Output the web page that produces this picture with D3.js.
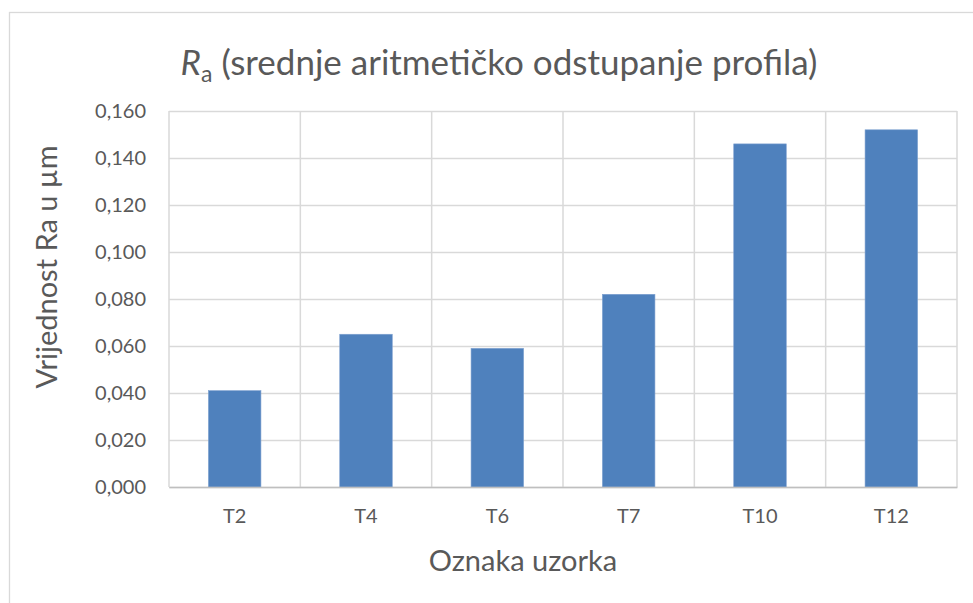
<!DOCTYPE html>
<head>
  <meta charset="utf-8">
  <script src="https://d3js.org/d3.v7.min.js"></script>
  <style>
    body { margin:0; background:#fff; }
    text { font-family: Lato, "Noto Sans", sans-serif; fill:#595959; }
    .grid line { stroke:#d9d9d9; stroke-width:1.5px; }
  </style>
</head>
<body>
<script>
  // data
  var categories = ["T2", "T4", "T6", "T7", "T10", "T12"];
  var raValues = [0.041, 0.065, 0.059, 0.082, 0.146, 0.152];
  var yTicks = [0, 0.02, 0.04, 0.06, 0.08, 0.10, 0.12, 0.14, 0.16];

  var W = 973, H = 603;
  var margin = {top: 111, right: 16, bottom: 116, left: 169},
    width = W - margin.left - margin.right,
    height = H - margin.top - margin.bottom;

  var svg = d3.select("body").append("svg")
    .attr("width", W)
    .attr("height", H);

  // chart frame
  svg.append("rect")
    .attr("x", 9.5).attr("y", 12.5)
    .attr("width", W).attr("height", H)
    .attr("fill", "none")
    .attr("stroke", "#d9d9d9")
    .attr("stroke-width", 1.3);

  var g = svg.append("g")
    .attr("transform", "translate(" + margin.left + "," + margin.top + ")");

  var x = d3.scaleBand().domain(categories).range([0, width]).padding(0);
  var y = d3.scaleLinear().domain([0, 0.16]).range([height, 0]);

  var fmt = function(d) { return d3.format(".3f")(d).replace(".", ","); };

  // horizontal gridlines + y tick labels
  var yAxis = g.append("g")
    .attr("class", "grid")
    .call(d3.axisLeft(y).tickValues(yTicks).tickSize(-width).tickPadding(23).tickFormat(fmt));
  yAxis.select(".domain").remove();
  yAxis.selectAll("text").style("font-size", "20px").attr("fill", "#595959");

  // vertical gridlines at category boundaries
  var bounds = categories.map(function(c) { return x(c); }).concat([width]);
  g.append("g").attr("class", "grid")
    .selectAll("line")
    .data(bounds)
    .enter().append("line")
    .attr("x1", function(d) { return d; })
    .attr("x2", function(d) { return d; })
    .attr("y1", 0)
    .attr("y2", height);

  // bars
  g.selectAll(".bar")
    .data(raValues)
    .enter().append("rect")
    .attr("class", "bar")
    .attr("x", function(d, i) { return x(categories[i]) + x.bandwidth() * 0.3; })
    .attr("width", x.bandwidth() * 0.4)
    .attr("y", function(d) { return y(d); })
    .attr("height", function(d) { return height - y(d); })
    .attr("fill", "#4f81bd")
    .attr("stroke", "#7ea1d0")
    .attr("stroke-width", 0.6);

  // x axis
  var xAxis = g.append("g")
    .attr("transform", "translate(0," + height + ")")
    .call(d3.axisBottom(x).tickSize(0).tickPadding(22));
  xAxis.select(".domain").attr("stroke", "#bfbfbf").attr("stroke-width", 1.5);
  xAxis.selectAll("text").style("font-size", "20px").attr("fill", "#595959");

  // titles
  var title = svg.append("text")
    .attr("x", 499)
    .attr("y", 75)
    .attr("text-anchor", "middle")
    .style("font-size", "35px");
  title.append("tspan").style("font-style", "italic").text("R");
  title.append("tspan").attr("dy", 7).style("font-size", "23px").text("a");
  title.append("tspan").attr("dy", -7).text(" (srednje aritmetičko odstupanje profila)");

  svg.append("text")
    .attr("x", 523)
    .attr("y", 571)
    .attr("text-anchor", "middle")
    .style("font-size", "29px")
    .text("Oznaka uzorka");

  svg.append("text")
    .attr("transform", "translate(57,267) rotate(-90)")
    .attr("text-anchor", "middle")
    .style("font-size", "29px")
    .text("Vrijednost Ra u µm");
</script>
</body>
